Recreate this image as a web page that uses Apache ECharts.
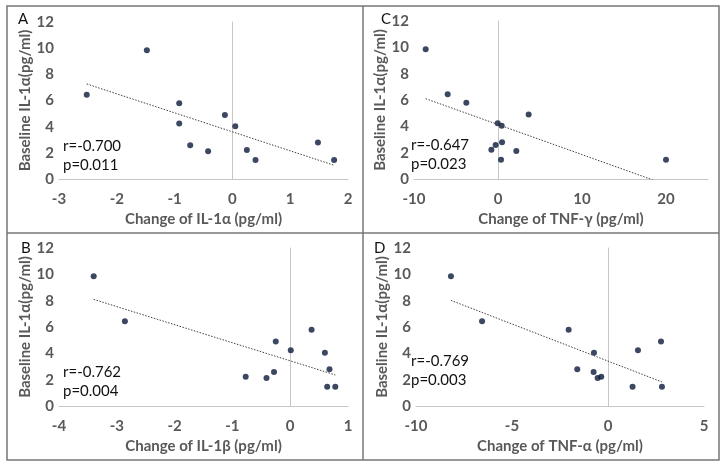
<!DOCTYPE html>
<html>
<head>
<meta charset="utf-8">
<script src="https://cdn.jsdelivr.net/npm/echarts@6/dist/echarts.min.js"></script>
<style>
  html, body { margin: 0; padding: 0; background: #fff; }
  #main { width: 728px; height: 468px; }
</style>
</head>
<body>
<div id="main"></div>
<script>
// baseline IL-1a of each subject (same y values in all four panels)
const baseline = [9.85, 6.43, 5.79, 4.9, 4.24, 4.04, 2.79, 2.58, 2.22, 2.12, 1.46, 1.46];
// change of each cytokine, same subject order
const changeIL1a = [-1.48, -2.52, -0.92, -0.13, -0.92, 0.05, 1.48, -0.73, 0.25, -0.42, 0.40, 1.76];
const changeIL1b = [-3.40, -2.86, 0.37, -0.25, 0.01, 0.60, 0.68, -0.28, -0.77, -0.41, 0.64, 0.78];
const changeTNFg = [-8.61, -5.99, -3.77, 3.65, -0.04, 0.44, 0.48, -0.28, -0.79, 2.18, 0.36, 20.0];
const changeTNFa = [-8.18, -6.56, -2.05, 2.76, 1.56, -0.73, -1.60, -0.75, -0.35, -0.54, 1.28, 2.81];

const panelLetters = ['A', 'C', 'B', 'D'];
const xTitles = ['Change of IL-1α (pg/ml)', 'Change of TNF-γ (pg/ml)', 'Change of IL-1β (pg/ml)', 'Change of TNF-α (pg/ml)'];
const yTitle = 'Baseline IL-1α(pg/ml)';
const rLabels = ['r=-0.700', 'r=-0.647', 'r=-0.762', 'r=-0.769'];
const pLabels = ['p=0.011', 'p=0.023', 'p=0.004', 'p=0.003'];
const xMins = [-3, -10, -4, -10];
const xMaxs = [2, 25, 1, 5];
const xSteps = [1, 10, 1, 5];

const changes = [changeIL1a, changeTNFg, changeIL1b, changeTNFa];

// layout per panel
const grids = [
    { left: 59, top: 22, width: 289, height: 157 },
    { left: 414, top: 21, width: 294, height: 158 },
    { left: 59, top: 248, width: 289, height: 158 },
    { left: 416, top: 248, width: 288, height: 158 }
];
// y names are placed from the grid's left edge
const yNameGaps = [18, 18, 17, 19];
const letterPos = [[18, 12], [381, 12], [21, 241], [374, 241]];
const notePos = [[63, 137], [411, 136], [63, 363], [411, 352]];

const tickColor = '#595959';
const font = 'Lato, "Noto Sans", sans-serif';

function trend(xs, ys) {
    let n = xs.length, mx = 0, my = 0;
    for (let i = 0; i < n; i++) { mx += xs[i]; my += ys[i]; }
    mx /= n; my /= n;
    let sxy = 0, sxx = 0;
    for (let i = 0; i < n; i++) {
        sxy += (xs[i] - mx) * (ys[i] - my);
        sxx += (xs[i] - mx) * (xs[i] - mx);
    }
    const b = sxy / sxx, a = my - b * mx;
    const lo = Math.min(...xs), hi = Math.max(...xs);
    return [[lo, a + b * lo], [hi, a + b * hi]];
}

const xAxes = [], yAxes = [], series = [], graphics = [];

grids.forEach((g, i) => {
    g.outerBoundsMode = 'none';
    g.containLabel = false;
    xAxes.push({
        gridIndex: i, type: 'value',
        min: xMins[i], max: xMaxs[i], interval: xSteps[i],
        name: xTitles[i], nameLocation: 'middle', nameGap: 33,
        nameTextStyle: { color: tickColor, fontWeight: 'bold', fontSize: 15, fontFamily: font },
        axisLine: { lineStyle: { color: '#c6c6c6', width: 1 } },
        axisTick: { show: false },
        splitLine: { show: false },
        axisLabel: {
            color: tickColor, fontWeight: 'bold', fontSize: 15, fontFamily: font, margin: 13,
            formatter: v => (Math.abs(v % xSteps[i]) < 1e-9 ? String(v) : '')
        }
    });
    yAxes.push({
        gridIndex: i, type: 'value',
        min: 0, max: 12, interval: 2,
        name: yTitle, nameLocation: 'middle', nameGap: yNameGaps[i],
        nameTextStyle: { color: tickColor, fontWeight: 'bold', fontSize: 15, fontFamily: font },
        axisLine: { show: true, onZero: true, lineStyle: { color: '#c6c6c6', width: 1 } },
        axisTick: { show: false },
        splitLine: { show: false },
        axisLabel: { color: tickColor, fontWeight: 'bold', fontSize: 15, fontFamily: font, margin: 5 }
    });
    const pts = changes[i].map((x, k) => [x, baseline[k]]);
    series.push({
        type: 'line', xAxisIndex: i, yAxisIndex: i,
        data: trend(changes[i], baseline),
        symbol: 'none', clip: true, silent: true,
        lineStyle: { color: '#404040', width: 1, type: [1.5, 1.5] }
    });
    series.push({
        type: 'scatter', xAxisIndex: i, yAxisIndex: i,
        data: pts, symbolSize: 6,
        itemStyle: { color: '#0b1a3a' }
    });
    graphics.push({
        type: 'text', left: letterPos[i][0], top: letterPos[i][1],
        style: { text: panelLetters[i], fill: '#111', font: '15px ' + font }
    });
    graphics.push({
        type: 'text', left: notePos[i][0], top: notePos[i][1],
        style: { text: rLabels[i] + '\n' + pLabels[i], fill: '#111', font: '15px ' + font, lineHeight: 19 }
    });
});

// panel frame
graphics.push({ type: 'rect', shape: { x: 7, y: 6, width: 712, height: 454 },
    style: { fill: 'none', stroke: '#777', lineWidth: 1.5 } });
graphics.push({ type: 'line', shape: { x1: 363, y1: 6, x2: 363, y2: 460 },
    style: { stroke: '#777', lineWidth: 1.5 } });
graphics.push({ type: 'line', shape: { x1: 7, y1: 233, x2: 719, y2: 233 },
    style: { stroke: '#777', lineWidth: 1.5 } });

var myChart = echarts.init(document.getElementById('main'));
var option = {
    animation: false,
    backgroundColor: '#fff',
    grid: grids,
    xAxis: xAxes,
    yAxis: yAxes,
    series: series,
    graphic: graphics
};
myChart.setOption(option);
</script>
</body>
</html>
